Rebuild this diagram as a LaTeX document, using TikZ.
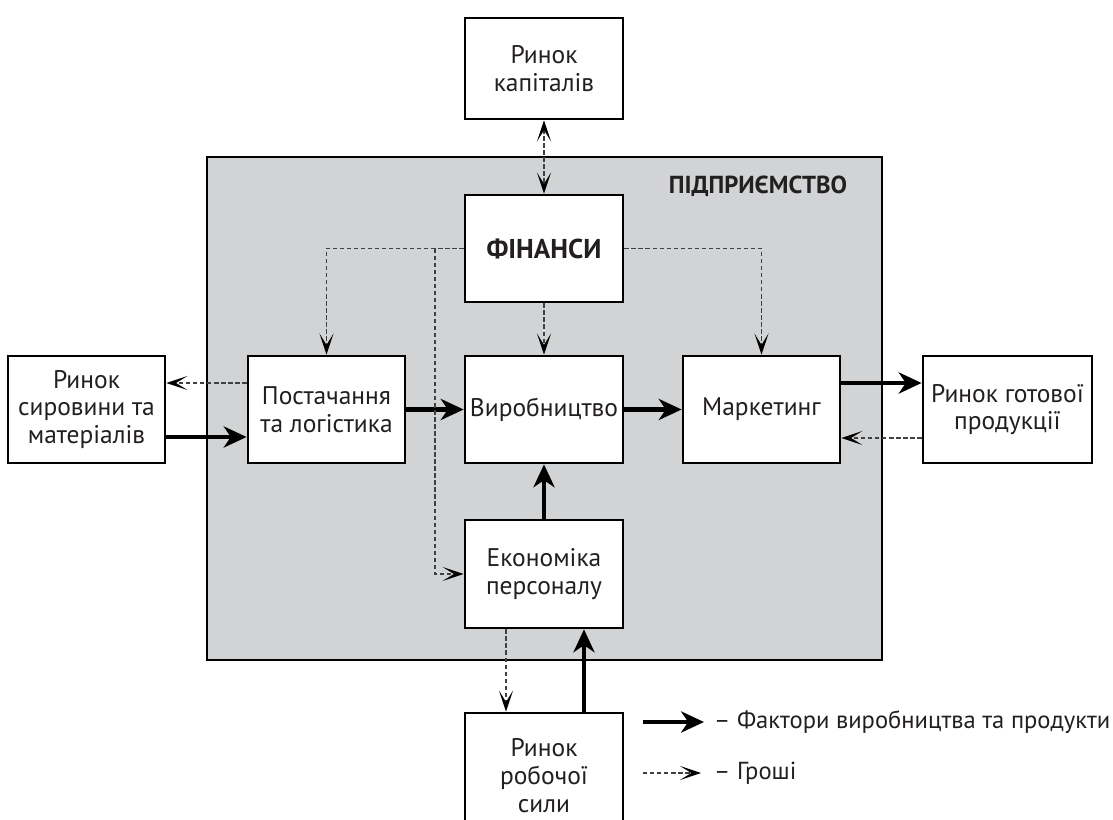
\documentclass[tikz,border=0pt]{standalone}
\usepackage{fontspec}
\setmainfont{PT Sans}
\usetikzlibrary{arrows.meta}
\definecolor{sirij}{RGB}{209,211,212}
\definecolor{tekst}{RGB}{35,31,32}

\begin{document}
\begin{tikzpicture}[x=0.02cm, y=-0.02cm, text=tekst,
  blok/.style={draw, fill=white, line width=1.6pt, align=center, minimum width=3.16cm, minimum height=2.14cm, inner sep=2pt, font=\fontsize{14.5}{15.8}\selectfont},
  fakt/.style={line width=2.8pt, -{Stealth[length=13pt,width=12pt,inset=4pt]}},
  groshi/.style={line width=0.75pt, black!75, dash pattern=on 2.5pt off 1.5pt, -{Stealth[length=12pt,width=8pt,inset=6.5pt,color=black]}},
  dvoe/.style={groshi, {Stealth[length=12pt,width=8pt,inset=6.5pt,color=black]}-{Stealth[length=12pt,width=8pt,inset=6.5pt,color=black]}}]
\useasboundingbox (0,0) rectangle (1113,820);
\node [draw, fill=sirij, line width=1.6pt, minimum width=13.5cm, minimum height=10.06cm] (pidpr) at (544.5,408.5) {};
\node [font=\fontsize{14}{18}\selectfont\bfseries] (nazva) at (758,186) {ПІДПРИЄМСТВО};

\node [blok, minimum height=2.02cm] (kap) at (544,68.5) {Ринок\\капіталів};
\node [blok, font=\fontsize{15.5}{18}\selectfont\bfseries] (fin) at (544,248.5) {ФІНАНСИ};
\node [blok, minimum width=3.14cm] (syr) at (86.5,409.5) {Ринок\\сировини та\\матеріалів};
\node [blok, minimum width=3.14cm] (post) at (326.5,409.5) {Постачання\\та логістика};
\node [blok] (vyr) at (544,409.5) {Виробництво};
\node [blok, minimum width=3.14cm] (mark) at (761.5,409.5) {Маркетинг};
\node [blok, minimum width=3.38cm] (got) at (1007.5,409.5) {Ринок готової\\продукції};
\node [blok, minimum height=2.16cm] (ekon) at (544,574) {Економіка\\персоналу};
\node [blok, minimum height=2.5cm] (rob) at (544,775.5) {Ринок\\робочої\\сили};

\coordinate (vidg) at (435,248.5);
\coordinate (l1a) at (643,722);
\coordinate (l1b) at (704,722);
\coordinate (l2a) at (643,773);
\coordinate (l2b) at (701,773);

\draw[fakt] ([yshift=-0.55cm]syr.east) -- ([yshift=-0.55cm]post.west);
\draw[fakt] (post) -- (vyr);
\draw[fakt] (vyr) -- (mark);
\draw[fakt] ([yshift=0.53cm]mark.east) -- ([yshift=0.53cm]got.west);
\draw[fakt] (ekon) -- (vyr);
\draw[fakt] ([xshift=0.8cm]rob.north) -- ([xshift=0.8cm]ekon.south);

\draw[dvoe] (kap) -- (fin);
\draw[groshi] (fin) -- (vyr);
\draw[groshi] (fin.west) -| (post.north);
\draw[groshi] (vidg) |- (ekon.west);
\draw[groshi] (fin.east) -| (mark.north);
\draw[groshi] ([yshift=0.53cm]post.west) -- ([yshift=0.53cm]syr.east);
\draw[groshi] ([yshift=-0.57cm]got.west) -- ([yshift=-0.57cm]mark.east);
\draw[groshi] ([xshift=-0.76cm]ekon.south) -- ([xshift=-0.76cm]rob.north);

\draw[fakt] (l1a) -- (l1b);
\draw[groshi] (l2a) -- (l2b);
\node [anchor=west, font=\fontsize{14}{18}\selectfont] (leg1) at (708,722) {-- Фактори виробництва та продукти};
\node [anchor=west, font=\fontsize{14}{18}\selectfont] (leg2) at (708,773) {-- Гроші};
\end{tikzpicture}
\end{document}
